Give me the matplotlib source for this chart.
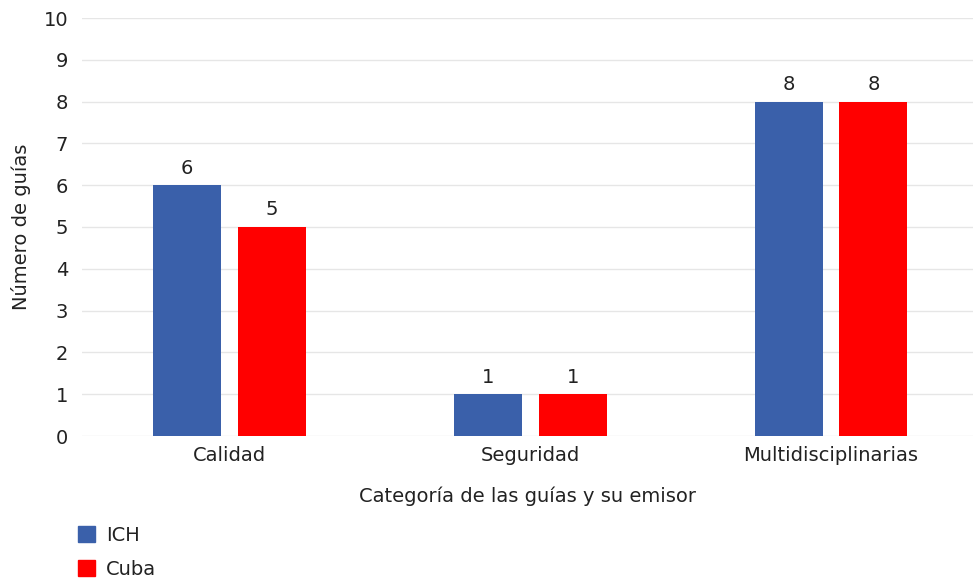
import matplotlib.pyplot as plt
import matplotlib.patches as mpatches
import numpy as np

# Data
categories = ['Calidad', 'Seguridad', 'Multidisciplinarias']
series_names = ['ICH', 'Cuba']
ich_values = [6, 1, 8]
cuba_values = [5, 1, 8]
colors = ['#3a60aa', '#ff0000']

plt.rcParams['font.family'] = 'sans-serif'
plt.rcParams['font.sans-serif'] = ['DejaVu Sans']
text_color = '#222222'
fs = 14

fig = plt.figure(figsize=(9.73, 5.78), dpi=100)
ax = fig.add_axes([82 / 973, 1 - 436 / 578, (973 - 82) / 973, (436 - 18) / 578])

x = np.arange(len(categories))
width = 0.226
offset = 0.141

for vals, sign, color in zip([ich_values, cuba_values], [-1, 1], colors):
    bars = ax.bar(x + sign * offset, vals, width, color=color, zorder=3, linewidth=0)
    for b, v in zip(bars, vals):
        ax.annotate(str(v), (b.get_x() + b.get_width() / 2, v), xytext=(0, 5.5),
                    textcoords='offset points', ha='center', va='bottom',
                    fontsize=fs, color=text_color)

ax.set_xlim(-0.4904, 2.472)
ax.set_ylim(0, 10)
ax.set_yticks(range(0, 11))
ax.set_xticks(x)
ax.set_xticklabels(categories)
ax.tick_params(axis='both', length=0, labelsize=fs, colors=text_color)
ax.tick_params(axis='y', pad=10)
ax.tick_params(axis='x', pad=7)
ax.grid(axis='y', color='#e6e6e6', linewidth=1, zorder=0)
for s in ax.spines.values():
    s.set_visible(False)

ax.set_xlabel('Categoría de las guías y su emisor', fontsize=fs, color=text_color, labelpad=16)
ax.set_ylabel('Número de guías', fontsize=fs, color=text_color, labelpad=9)

# legend
handles = [mpatches.Patch(color=c, label=n) for c, n in zip(colors, series_names)]
fig.legend(handles=handles, loc='upper left', bbox_to_anchor=(78 / 973, 1 - 526 / 578),
           frameon=False, fontsize=fs, handlelength=0.88, handleheight=0.88,
           handletextpad=0.55, labelspacing=0.75, borderpad=0, borderaxespad=0,
           labelcolor=text_color)

fig.savefig('out.png', dpi=100, facecolor='white')
